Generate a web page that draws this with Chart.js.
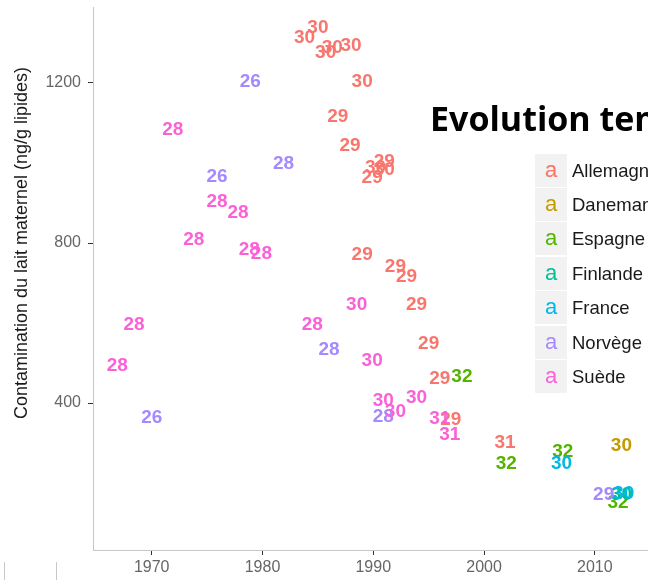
<!DOCTYPE html>
<html lang="fr">
<head>
    <meta charset="UTF-8">
    <title>Evolution temporelle</title>
    <script src="https://cdn.jsdelivr.net/npm/chart.js"></script>
    <style>
        body {
            margin: 0;
            background: white;
            font-family: "Liberation Sans", Arial, sans-serif;
        }
        .frame {
            position: relative;
            width: 648px;
            height: 580px;
            overflow: hidden;
            background: white;
        }
        #chart {
            position: absolute;
            left: 0;
            top: 0;
        }
        .ytitle {
            position: absolute;
            left: 21px;
            top: 243px;
            transform: translate(-50%, -50%) rotate(-90deg);
            white-space: nowrap;
            font-size: 18px;
            color: #1a1a1a;
        }
        .bigtitle {
            position: absolute;
            left: 430px;
            top: 95px;
            white-space: nowrap;
            font-family: "Open Sans", sans-serif;
            font-weight: bold;
            font-size: 34px;
            line-height: 46px;
            color: black;
        }
        .legend-row {
            position: absolute;
            left: 535px;
            height: 33px;
            white-space: nowrap;
        }
        .legend-key {
            position: absolute;
            left: 0;
            top: 0;
            width: 32px;
            height: 33px;
            background: #f2f2f2;
            text-align: center;
            font-size: 22px;
            line-height: 31px;
        }
        .legend-label {
            position: absolute;
            left: 37px;
            top: 0;
            font-size: 18.5px;
            line-height: 33px;
            color: #1a1a1a;
        }
        .mark {
            position: absolute;
            width: 1px;
            background: #c8c8c8;
        }
    </style>
</head>
<body>

<div class="frame">
    <canvas id="chart" width="648" height="580"></canvas>
    <div class="ytitle">Contamination du lait maternel (ng/g lipides)</div>
    <div class="bigtitle">Evolution temporelle</div>
    <div id="legend"></div>
    <div class="mark" style="left:4px; top:562px; height:18px;"></div>
    <div class="mark" style="left:56px; top:562px; height:18px;"></div>
</div>

<script>
    // countries and ggplot hue colours
    const countries = ["Allemagne", "Danemark", "Espagne", "Finlande", "France", "Norvège", "Suède"];
    const colors = ["#F8766D", "#C49A00", "#53B400", "#00C094", "#00B6EB", "#A58AFF", "#FB61D7"];

    // per country: year, contamination, label (age)
    const allemagneYears = [1985.0, 1983.8, 1985.7, 1986.3, 1988.0, 1989.0, 1986.8, 1987.9, 1991.0, 1990.2, 1991.0, 1989.9, 1989.0, 1992.0, 1993.0, 1993.9, 1995.0, 1996.0, 1997.0, 2001.9];
    const allemagneValues = [1337, 1312, 1275, 1287, 1292, 1203, 1116, 1043, 1002, 987, 982, 962, 770, 741, 716, 645, 547, 460, 357, 301];
    const allemagneAges = ["30", "30", "30", "30", "30", "30", "29", "29", "29", "30", "30", "29", "29", "29", "29", "29", "29", "29", "29", "31"];

    const danemarkYears = [2012.4];
    const danemarkValues = [294];
    const danemarkAges = ["30"];

    const espagneYears = [1998.0, 2002.0, 2007.1, 2012.1];
    const espagneValues = [466, 249, 278, 150];
    const espagneAges = ["32", "32", "32", "32"];

    const finlandeYears = [2012.4];
    const finlandeValues = [170];
    const finlandeAges = ["30"];

    const franceYears = [2007.0, 2012.6];
    const franceValues = [249, 172];
    const franceAges = ["30", "30"];

    const norvegeYears = [1978.9, 1975.9, 1981.9, 1986.0, 1970.0, 1990.9, 2010.8];
    const norvegeValues = [1203, 966, 997, 532, 364, 366, 170];
    const norvegeAges = ["26", "26", "28", "28", "26", "28", "29"];

    const suedeYears = [1971.9, 1975.9, 1977.8, 1973.8, 1978.8, 1979.9, 1968.4, 1966.9, 1984.5, 1988.5, 1989.9, 1990.9, 1992.0, 1993.9, 1996.0, 1996.9];
    const suedeValues = [1084, 903, 876, 807, 784, 774, 595, 492, 595, 645, 506, 406, 377, 412, 360, 320];
    const suedeAges = ["28", "28", "28", "28", "28", "28", "28", "28", "28", "30", "30", "30", "30", "30", "31", "31"];

    const xTicks = [1970, 1980, 1990, 2000, 2010];
    const yTicks = [400, 800, 1200];

    const series = [
        [allemagneYears, allemagneValues, allemagneAges],
        [danemarkYears, danemarkValues, danemarkAges],
        [espagneYears, espagneValues, espagneAges],
        [finlandeYears, finlandeValues, finlandeAges],
        [franceYears, franceValues, franceAges],
        [norvegeYears, norvegeValues, norvegeAges],
        [suedeYears, suedeValues, suedeAges]
    ];

    const datasets = series.map((s, i) => ({
        label: countries[i],
        data: s[0].map((x, j) => ({ x: x, y: s[1][j] })),
        ages: s[2],
        borderColor: colors[i],
        backgroundColor: colors[i],
        pointRadius: 0,
        pointHoverRadius: 0
    }));

    // draws the age label at each point position
    const textPoints = {
        id: 'textPoints',
        afterDatasetsDraw(chart) {
            const ctx = chart.ctx;
            ctx.save();
            ctx.font = 'bold 19px "Liberation Sans", Arial, sans-serif';
            ctx.textAlign = 'center';
            ctx.textBaseline = 'middle';
            chart.data.datasets.forEach((ds, i) => {
                chart.getDatasetMeta(i).data.forEach((pt, j) => {
                    ctx.fillStyle = ds.borderColor;
                    ctx.fillText(ds.ages[j], pt.x, pt.y);
                });
            });
            ctx.restore();
        }
    };

    // legend
    let legend = document.getElementById("legend");
    countries.forEach((name, i) => {
        let top = 170 + i * 34.4 - 16.5;
        legend.innerHTML += `<div class="legend-row" style="top:${top}px">
            <div class="legend-key" style="color:${colors[i]}">a</div>
            <div class="legend-label">${name}</div>
        </div>`;
    });

    const tickFont = { family: '"Liberation Sans", Arial, sans-serif', size: 16 };

    new Chart(document.getElementById("chart").getContext("2d"), {
        type: 'scatter',
        data: { datasets: datasets },
        plugins: [textPoints],
        options: {
            responsive: false,
            animation: false,
            events: [],
            layout: { padding: { top: 7, right: 0, left: 0, bottom: 0 } },
            plugins: {
                legend: { display: false },
                tooltip: { enabled: false }
            },
            scales: {
                x: {
                    type: 'linear',
                    min: 1964.7,
                    max: 2014.8,
                    afterBuildTicks: s => { s.ticks = xTicks.map(v => ({ value: v })); },
                    afterFit: s => { s.height = 30; s.paddingLeft = 0; s.paddingRight = 0; },
                    ticks: { font: tickFont, color: '#666', padding: 3, callback: v => String(v) },
                    grid: { drawOnChartArea: false, tickLength: 5, tickColor: '#333' },
                    border: { color: '#c8c8c8', width: 1 }
                },
                y: {
                    min: 32.5,
                    max: 1390,
                    afterBuildTicks: s => { s.ticks = yTicks.map(v => ({ value: v })); },
                    afterFit: s => { s.width = 93; s.paddingTop = 0; s.paddingBottom = 0; },
                    ticks: { font: tickFont, color: '#666', padding: 7, callback: v => String(v) },
                    grid: { drawOnChartArea: false, tickLength: 5, tickColor: '#333' },
                    border: { color: '#c8c8c8', width: 1 }
                }
            }
        }
    });
</script>

</body>
</html>
